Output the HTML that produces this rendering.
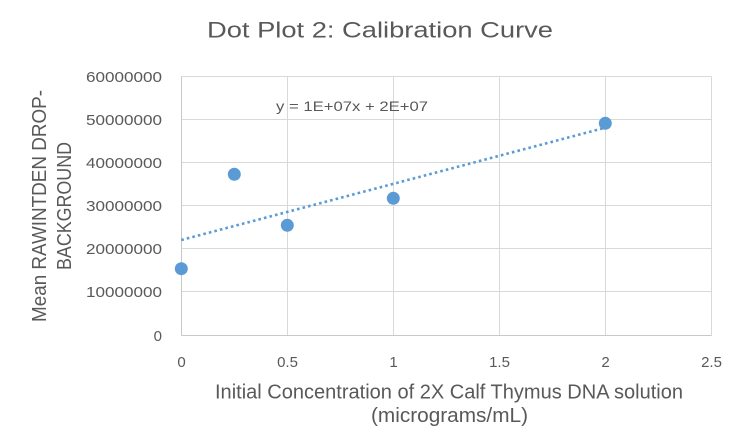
<!DOCTYPE html>
<html>
<head>
<meta charset="utf-8">
<style>
  html, body { margin: 0; padding: 0; background: #ffffff; }
  svg { display: block; }
  text { font-family: "Liberation Sans", sans-serif; fill: #595959; }
</style>
</head>
<body>
<svg width="745" height="448" viewBox="0 0 745 448" xmlns="http://www.w3.org/2000/svg">
  <rect x="0" y="0" width="745" height="448" fill="#ffffff"/>

  <!-- Title -->
  <text x="207" y="37.5" font-size="22" textLength="346" lengthAdjust="spacingAndGlyphs">Dot Plot 2: Calibration Curve</text>

  <!-- Gridlines horizontal -->
  <g stroke="#d9d9d9" stroke-width="1" fill="none">
    <line x1="181.5" y1="76.5" x2="711.5" y2="76.5"/>
    <line x1="181.5" y1="119.5" x2="711.5" y2="119.5"/>
    <line x1="181.5" y1="162.5" x2="711.5" y2="162.5"/>
    <line x1="181.5" y1="205.5" x2="711.5" y2="205.5"/>
    <line x1="181.5" y1="248.5" x2="711.5" y2="248.5"/>
    <line x1="181.5" y1="291.5" x2="711.5" y2="291.5"/>
    <!-- vertical -->
    <line x1="287.5" y1="76.5" x2="287.5" y2="335.5"/>
    <line x1="393.5" y1="76.5" x2="393.5" y2="335.5"/>
    <line x1="499.5" y1="76.5" x2="499.5" y2="335.5"/>
    <line x1="605.5" y1="76.5" x2="605.5" y2="335.5"/>
    <line x1="711.5" y1="76.5" x2="711.5" y2="335.5"/>
  </g>
  <!-- Axes -->
  <g stroke="#c8c8c8" stroke-width="1" fill="none">
    <line x1="181.5" y1="76.5" x2="181.5" y2="335.5"/>
    <line x1="181.5" y1="335.5" x2="711.5" y2="335.5"/>
  </g>

  <!-- Y tick labels -->
  <g font-size="15" text-anchor="end">
    <text x="162" y="82" textLength="76" lengthAdjust="spacingAndGlyphs">60000000</text>
    <text x="162" y="125" textLength="76" lengthAdjust="spacingAndGlyphs">50000000</text>
    <text x="162" y="168" textLength="76" lengthAdjust="spacingAndGlyphs">40000000</text>
    <text x="162" y="211" textLength="76" lengthAdjust="spacingAndGlyphs">30000000</text>
    <text x="162" y="254" textLength="76" lengthAdjust="spacingAndGlyphs">20000000</text>
    <text x="162" y="297" textLength="76" lengthAdjust="spacingAndGlyphs">10000000</text>
    <text x="162" y="341">0</text>
  </g>

  <!-- X tick labels -->
  <g font-size="15" text-anchor="middle">
    <text x="181.5" y="367">0</text>
    <text x="287.5" y="367">0.5</text>
    <text x="393.5" y="367">1</text>
    <text x="499.5" y="367">1.5</text>
    <text x="605.5" y="367">2</text>
    <text x="711.5" y="367">2.5</text>
  </g>

  <!-- X axis title -->
  <text x="215" y="398.5" font-size="20" textLength="468" lengthAdjust="spacingAndGlyphs">Initial Concentration of 2X Calf Thymus DNA solution</text>
  <text x="371" y="422" font-size="20" textLength="157" lengthAdjust="spacingAndGlyphs">(micrograms/mL)</text>

  <!-- Y axis title -->
  <g transform="translate(46,206) rotate(-90)">
    <text x="-116" y="0" font-size="20" textLength="232" lengthAdjust="spacingAndGlyphs">Mean RAWINTDEN DROP-</text>
  </g>
  <g transform="translate(71,206) rotate(-90)">
    <text x="-64" y="0" font-size="20" textLength="128" lengthAdjust="spacingAndGlyphs">BACKGROUND</text>
  </g>

  <!-- Trendline -->
  <line x1="181.3" y1="240" x2="605.3" y2="127.7" stroke="#5b9bd5" stroke-width="2.6" stroke-dasharray="2.6 3.1"/>

  <!-- Equation -->
  <text x="276" y="111" font-size="14" textLength="152" lengthAdjust="spacingAndGlyphs">y = 1E+07x + 2E+07</text>

  <!-- Data points -->
  <g fill="#5b9bd5">
    <circle cx="181.3" cy="268.7" r="6.5"/>
    <circle cx="234.3" cy="174.3" r="6.5"/>
    <circle cx="287.3" cy="225.3" r="6.5"/>
    <circle cx="393.3" cy="198.3" r="6.5"/>
    <circle cx="605.3" cy="123.3" r="6.5"/>
  </g>
</svg>
</body>
</html>
